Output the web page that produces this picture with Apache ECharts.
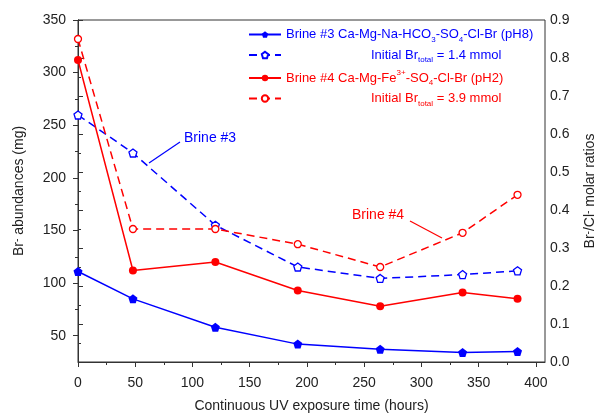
<!DOCTYPE html>
<html><head><meta charset="utf-8">
<script src="https://cdn.jsdelivr.net/npm/echarts@6/dist/echarts.min.js"></script>
<style>html,body{margin:0;padding:0;background:#fff}#c{width:601px;height:417px}</style>
</head><body><div id="c"></div>
<script>
// ---- data ----
const hours = [0, 48, 120, 192, 264, 336, 384];
const brine3Abundance = [111, 85, 58, 42, 37, 34, 35];      // Br- abundances (mg)
const brine4Abundance = [312, 112, 120, 93, 78, 91, 85];
const brine3Ratio = [0.65, 0.55, 0.36, 0.25, 0.22, 0.23, 0.24]; // Br-/Cl- molar ratios
const brine4Ratio = [0.85, 0.35, 0.35, 0.31, 0.25, 0.34, 0.44];
const xTicks = [0, 50, 100, 150, 200, 250, 300, 350, 400];
const xMinorTicks = [25, 75, 125, 175, 225, 275, 325, 375];
const leftTicks = [50, 100, 150, 200, 250, 300, 350];
const leftMinorTicks = [75, 125, 175, 225, 275, 325];
const seriesNames = [
  'Brine #3 Ca-Mg-Na-HCO3-SO4-Cl-Br (pH8)',
  'Initial Br total = 1.4 mmol',
  'Brine #4 Ca-Mg-Fe3+-SO4-Cl-Br (pH2)',
  'Initial Br total = 3.9 mmol'
];

const BLUE = '#0000ff', RED = '#ff0000', INK = '#222';
const pentagon = 'path://M0,-10 L9.51,-3.09 L5.88,8.09 L-5.88,8.09 L-9.51,-3.09 Z';
const pairs = (ys) => hours.map((h, i) => [h, ys[i]]);

const legendRich = {
  b: {color: BLUE, fontSize: 13, lineHeight: 18, fontFamily: 'Liberation Sans'},
  bs: {color: BLUE, fontSize: 8, lineHeight: 10, verticalAlign: 'bottom', fontFamily: 'Liberation Sans'},
  r: {color: RED, fontSize: 13, lineHeight: 18, fontFamily: 'Liberation Sans'},
  rs: {color: RED, fontSize: 8, lineHeight: 10, verticalAlign: 'bottom', fontFamily: 'Liberation Sans'},
  rp: {color: RED, fontSize: 8, lineHeight: 10, verticalAlign: 'top', fontFamily: 'Liberation Sans'},
  ind: {width: 85, lineHeight: 18}
};
const legendFmt = {};
legendFmt[seriesNames[0]] = '{b|Brine #3 Ca-Mg-Na-HCO}{bs|3}{b|-SO}{bs|4}{b|-Cl-Br (pH8)}';
legendFmt[seriesNames[1]] = '{ind|}{b|Initial Br}{bs|total}{b| = 1.4 mmol}';
legendFmt[seriesNames[2]] = '{r|Brine #4 Ca-Mg-Fe}{rp|3+}{r|-SO}{rs|4}{r|-Cl-Br (pH2)}';
legendFmt[seriesNames[3]] = '{ind|}{r|Initial Br}{rs|total}{r| = 3.9 mmol}';

const axisCommon = {
  axisLine: {show: true, lineStyle: {color: '#333', width: 1}},
  splitLine: {show: false}
};
const nameRich = {
  n: {fontSize: 14, color: INK, fontFamily: 'Liberation Sans'},
  s: {fontSize: 10, color: INK, verticalAlign: 'top', lineHeight: 8, fontFamily: 'Liberation Sans'}
};

const chart = echarts.init(document.getElementById('c'), null, {renderer: 'canvas'});
chart.setOption({
  animation: false,
  backgroundColor: '#fff',
  textStyle: {fontFamily: 'Liberation Sans'},
  grid: {left: 78, right: 56, top: 20, bottom: 55, show: true, borderColor: '#333', borderWidth: 1,
         containLabel: false, outerBoundsMode: 'none'},
  legend: {
    left: 243, top: 23, orient: 'vertical', itemWidth: 32, itemHeight: 8, itemGap: 5,
    selectedMode: false,
    data: seriesNames,
    formatter: (n) => legendFmt[n],
    textStyle: {rich: legendRich, padding: [0, 0, 0, 0]}
  },
  xAxis: [{
    type: 'value', min: 0, max: 408,
    ...axisCommon,
    axisTick: {show: true, length: 5, customValues: xTicks, lineStyle: {color: '#333'}},
    axisLabel: {customValues: xTicks, fontSize: 14, color: INK, margin: 14},
    name: 'Continuous UV exposure time (hours)', nameLocation: 'middle', nameGap: 37,
    nameTextStyle: {fontSize: 14, color: INK}
  }, {
    type: 'value', min: 0, max: 408, position: 'bottom',
    axisLine: {show: false}, splitLine: {show: false}, axisLabel: {show: false},
    axisTick: {show: true, length: 3, customValues: xMinorTicks, lineStyle: {color: '#333'}}
  }],
  yAxis: [{
    type: 'value', min: 25, max: 350, position: 'left',
    ...axisCommon,
    axisTick: {show: true, length: 5, customValues: leftTicks, lineStyle: {color: '#333'}},
    axisLabel: {customValues: leftTicks, fontSize: 14, color: INK, margin: 12},
    name: '{n|Br}{s|-}{n| abundances (mg)}', nameLocation: 'middle', nameGap: 52, nameRotate: 90,
    nameTextStyle: {rich: nameRich}
  }, {
    type: 'value', min: 0, max: 0.9, interval: 0.1, position: 'right',
    ...axisCommon,
    axisTick: {show: true, length: 5, lineStyle: {color: '#333'}},
    minorTick: {show: true, splitNumber: 2, length: 3, lineStyle: {color: '#333'}},
    axisLabel: {fontSize: 14, color: INK, margin: 5, formatter: (v) => v.toFixed(1)},
    name: '{n|Br}{s|-}{n|/Cl}{s|-}{n| molar ratios}', nameLocation: 'middle', nameGap: 38, nameRotate: 90,
    nameTextStyle: {rich: nameRich}
  }, {
    type: 'value', min: 25, max: 350, position: 'left',
    axisLine: {show: false}, splitLine: {show: false}, axisLabel: {show: false},
    axisTick: {show: true, length: 3, customValues: leftMinorTicks, lineStyle: {color: '#333'}}
  }],
  series: [{
    name: seriesNames[0], type: 'line', xAxisIndex: 0, yAxisIndex: 0,
    data: pairs(brine3Abundance),
    symbol: pentagon, symbolSize: 9,
    lineStyle: {color: BLUE, width: 1.5}, itemStyle: {color: BLUE}
  }, {
    name: seriesNames[1], type: 'line', xAxisIndex: 0, yAxisIndex: 1,
    data: pairs(brine3Ratio),
    symbol: pentagon, symbolSize: 8,
    lineStyle: {color: BLUE, width: 1.5, type: [8, 5]},
    itemStyle: {color: '#fff', borderColor: BLUE, borderWidth: 1.3}
  }, {
    name: seriesNames[2], type: 'line', xAxisIndex: 0, yAxisIndex: 0,
    data: pairs(brine4Abundance),
    symbol: 'circle', symbolSize: 8,
    lineStyle: {color: RED, width: 1.5}, itemStyle: {color: RED}
  }, {
    name: seriesNames[3], type: 'line', xAxisIndex: 0, yAxisIndex: 1,
    data: pairs(brine4Ratio),
    symbol: 'circle', symbolSize: 7,
    lineStyle: {color: RED, width: 1.5, type: [8, 5]},
    itemStyle: {color: '#fff', borderColor: RED, borderWidth: 1.3}
  }],
  graphic: [
    {type: 'text', left: 184, top: 131, style: {text: 'Brine #3', fill: BLUE, font: '14px "Liberation Sans"'}},
    {type: 'line', shape: {x1: 180, y1: 142, x2: 149, y2: 163}, style: {stroke: BLUE, lineWidth: 1.2}},
    {type: 'text', left: 352, top: 208, style: {text: 'Brine #4', fill: RED, font: '14px "Liberation Sans"'}},
    {type: 'line', shape: {x1: 410, y1: 221, x2: 442, y2: 238}, style: {stroke: RED, lineWidth: 1.2}}
  ]
});
</script></body></html>
